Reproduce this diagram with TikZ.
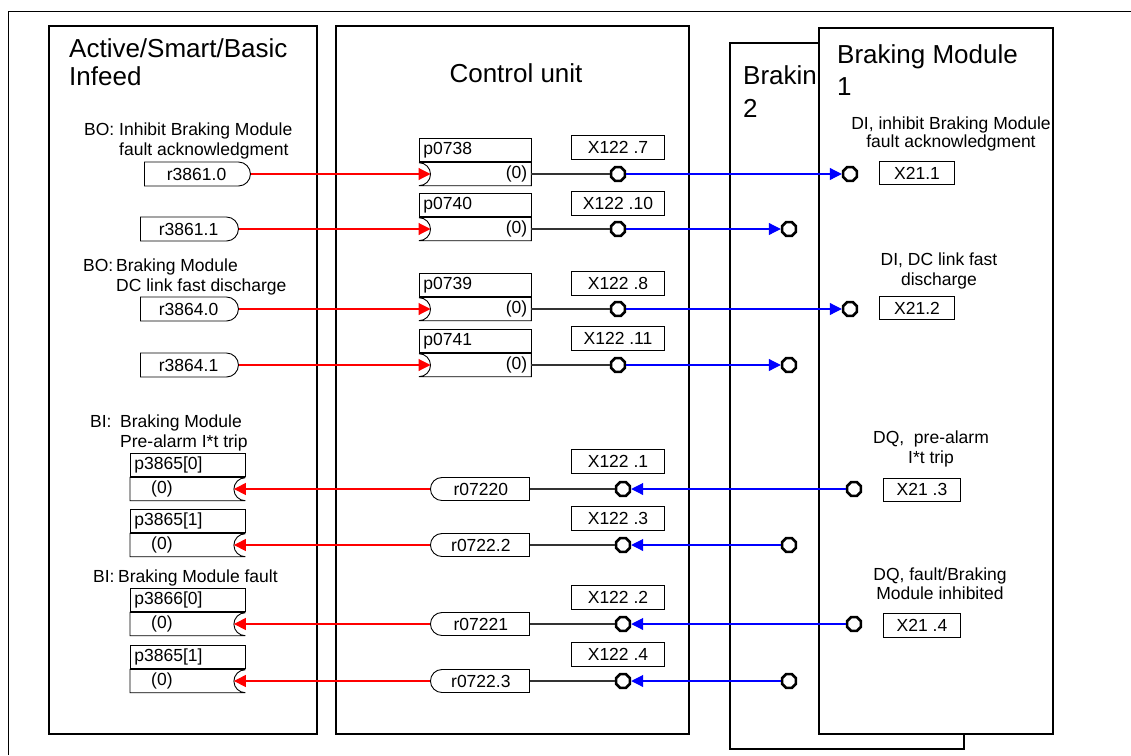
\documentclass[tikz,border=0pt]{standalone}
\usepackage{fontspec}
\setmainfont{Liberation Sans}
\usetikzlibrary{arrows.meta, positioning, shapes.geometric, shapes.misc}

\begin{document}
\begin{tikzpicture}[
  x=1pt, y=-1pt,
  unit/.style={rectangle, draw, line width=2.4pt, anchor=north west, inner sep=0pt},
  title/.style={font=\fontsize{26}{28}\selectfont, anchor=base west, inner sep=0pt},
  lbl/.style={font=\fontsize{17.5}{20}\selectfont, inner sep=0pt},
  xbox/.style={rectangle, draw, line width=0.9pt, font=\fontsize{17.5}{20}\selectfont,
               minimum width=93pt, minimum height=24pt, inner sep=0pt},
  term/.style={regular polygon, regular polygon sides=8, draw, line width=2.6pt,
               minimum size=15pt, inner sep=0pt},
  plugR/.style={rounded rectangle, rounded rectangle west arc=none, draw, line width=0.9pt,
                font=\fontsize{17.5}{20}\selectfont, minimum height=24pt, inner sep=0pt,
                anchor=west},
  plugL/.style={rounded rectangle, rounded rectangle east arc=none, draw, line width=0.9pt,
                font=\fontsize{17.5}{20}\selectfont, minimum height=23pt, inner sep=0pt,
                minimum width=99pt, anchor=west},
  phead/.style={rectangle, draw, line width=0.9pt, font=\fontsize{17.5}{20}\selectfont,
                minimum height=23pt, inner xsep=4pt, inner ysep=0pt, align=left,
                anchor=south west},
  sockW/.style={rectangle, font=\fontsize{17.5}{20}\selectfont, minimum height=23pt,
                text width=104pt, inner xsep=4pt, inner ysep=0pt, align=right, anchor=west},
  sockE/.style={rectangle, font=\fontsize{17.5}{20}\selectfont, minimum height=23pt,
                text width=107pt, inner xsep=4pt, inner ysep=0pt, align=left, anchor=west},
  notch/.style={black, line width=0.9pt},
  sig/.style={draw=red, fill=red, line width=1.1pt, -{Triangle[length=12pt, width=12pt]}},
  wire/.style={draw=blue, fill=blue, line width=1.1pt, -{Triangle[length=12pt, width=12pt]}},
  link/.style={black!80, line width=1.1pt}
]
\useasboundingbox (0,0) rectangle (1131,755);
% page frame (only top and left edge in view)
\draw[line width=0.8pt] (8,755) -- (8,11) -- (1131,11);

% the four units
\node[unit, minimum width=268pt, minimum height=708pt] (infeed) at (48,25) {};
\node[unit, minimum width=353pt, minimum height=708pt] (cu) at (335,25) {};
\node[unit, minimum width=234pt, minimum height=706pt] (bm2) at (729,42) {};
\node[title, font=\fontsize{26}{33}\selectfont] (bm2t) at (743,84)
     {\begin{tabular}[t]{@{}l@{}}Brakin\\2\end{tabular}};
\node[unit, fill=white, minimum width=234pt, minimum height=706pt] (bm1) at (818,27) {};
\node[title] (inft) at (69,57) {\begin{tabular}[t]{@{}l@{}}Active/Smart/Basic\\Infeed\end{tabular}};
\node[title, anchor=base] (cut) at (516,82) {Control unit};
\node[title, font=\fontsize{26}{32}\selectfont] (bm1t) at (837,63)
     {\begin{tabular}[t]{@{}l@{}}Braking Module\\1\end{tabular}};

% infeed: binector outputs and inputs
\node[lbl, anchor=base west] (lo1) at (84,135)
     {\makebox[35pt][l]{BO:}\begin{tabular}[t]{@{}l@{}}Inhibit Braking Module\\fault acknowledgment\end{tabular}};
\node[lbl, anchor=base west] (lo2) at (83,271)
     {\makebox[33pt][l]{BO:}\begin{tabular}[t]{@{}l@{}}Braking Module\\DC link fast discharge\end{tabular}};
\node[lbl, anchor=base west] (li1) at (90,427)
     {\makebox[30pt][l]{BI:}\begin{tabular}[t]{@{}l@{}}Braking Module\\Pre-alarm I*t trip\end{tabular}};
\node[lbl, anchor=base west] (li2) at (93,582) {\makebox[25pt][l]{BI:}Braking Module fault};

\node[plugR, minimum width=106pt] (ro1) at (144,174) {r3861.0};
\node[plugR, minimum width=98pt] (ro2) at (140,229) {r3861.1};
\node[plugR, minimum width=98pt] (ro3) at (140,309) {r3864.0};
\node[plugR, minimum width=98pt] (ro4) at (140,365) {r3864.1};

\node[sockE] (qi1) at (130,489) {\hspace*{17pt}(0)};
\node[phead, text width=107pt] (qh1) at (qi1.north west) {p3865[0]};
\node[sockE] (qi2) at (130,545) {\hspace*{17pt}(0)};
\node[phead, text width=107pt] (qh2) at (qi2.north west) {p3865[1]};
\node[sockE] (qi3) at (130,624) {\hspace*{17pt}(0)};
\node[phead, text width=107pt] (qh3) at (qi3.north west) {p3866[0]};
\node[sockE] (qi4) at (130,681) {\hspace*{17pt}(0)};
\node[phead, text width=107pt] (qh4) at (qi4.north west) {p3865[1]};
% socket outlines, notch on the right
\draw[notch] (qi1.north east) -- (qi1.north west) -- (qi1.south west) -- (qi1.south east)
             arc[start angle=-90, end angle=-270, radius=11.5pt];
\draw[notch] (qi2.north east) -- (qi2.north west) -- (qi2.south west) -- (qi2.south east)
             arc[start angle=-90, end angle=-270, radius=11.5pt];
\draw[notch] (qi3.north east) -- (qi3.north west) -- (qi3.south west) -- (qi3.south east)
             arc[start angle=-90, end angle=-270, radius=11.5pt];
\draw[notch] (qi4.north east) -- (qi4.north west) -- (qi4.south west) -- (qi4.south east)
             arc[start angle=-90, end angle=-270, radius=11.5pt];

% control unit: inputs, outputs and terminals X122
\node[sockW] (pi1) at (419,174) {(0)};
\node[phead, text width=104pt] (ph1) at (pi1.north west) {p0738};
\node[sockW] (pi2) at (419,229) {(0)};
\node[phead, text width=104pt] (ph2) at (pi2.north west) {p0740};
\node[sockW] (pi3) at (419,309) {(0)};
\node[phead, text width=104pt] (ph3) at (pi3.north west) {p0739};
\node[sockW] (pi4) at (419,365) {(0)};
\node[phead, text width=104pt] (ph4) at (pi4.north west) {p0741};
% socket outlines, notch on the left
\draw[notch] (pi1.north west) -- (pi1.north east) -- (pi1.south east) -- (pi1.south west)
             arc[start angle=-90, end angle=90, radius=11.5pt];
\draw[notch] (pi2.north west) -- (pi2.north east) -- (pi2.south east) -- (pi2.south west)
             arc[start angle=-90, end angle=90, radius=11.5pt];
\draw[notch] (pi3.north west) -- (pi3.north east) -- (pi3.south east) -- (pi3.south west)
             arc[start angle=-90, end angle=90, radius=11.5pt];
\draw[notch] (pi4.north west) -- (pi4.north east) -- (pi4.south east) -- (pi4.south west)
             arc[start angle=-90, end angle=90, radius=11.5pt];

\node[plugL] (rc1) at (430,489) {r07220};
\node[plugL] (rc2) at (430,545) {r0722.2};
\node[plugL] (rc3) at (430,624) {r07221};
\node[plugL] (rc4) at (430,681) {r0722.3};

\node[xbox] (xc1) at (618,147) {X122 .7};
\node[xbox] (xc2) at (618,203) {X122 .10};
\node[xbox] (xc3) at (618,283) {X122 .8};
\node[xbox] (xc4) at (618,338) {X122 .11};
\node[xbox] (xc5) at (618,461) {X122 .1};
\node[xbox] (xc6) at (618,518) {X122 .3};
\node[xbox] (xc7) at (618,597) {X122 .2};
\node[xbox] (xc8) at (618,654) {X122 .4};

\node[term] (tc1) at (618,174) {};
\node[term] (tc2) at (618,229) {};
\node[term] (tc3) at (618,309) {};
\node[term] (tc4) at (618,365) {};
\node[term] (tc5) at (623,489) {};
\node[term] (tc6) at (623,545) {};
\node[term] (tc7) at (623,624) {};
\node[term] (tc8) at (623,681) {};

% braking modules: terminals X21
\node[term] (tb1) at (850,174) {};
\node[term] (tb2) at (789,229) {};
\node[term] (tb3) at (850,309) {};
\node[term] (tb4) at (789,365) {};
\node[term] (tb5) at (854,489) {};
\node[term] (tb6) at (789,545) {};
\node[term] (tb7) at (854,624) {};
\node[term] (tb8) at (789,681) {};

\node[xbox, minimum width=75pt, minimum height=23pt] (xb1) at (917,173) {X21.1};
\node[xbox, minimum width=75pt, minimum height=23pt] (xb2) at (917,308) {X21.2};
\node[xbox, minimum width=77pt, minimum height=23pt] (xb3) at (922,489.5) {X21 .3};
\node[xbox, minimum width=77pt, minimum height=24pt] (xb4) at (922,625) {X21 .4};

\node[lbl, anchor=base, font=\fontsize{17.5}{18}\selectfont] (lb1) at (951,129)
     {\begin{tabular}[t]{@{}c@{}}DI, inhibit Braking Module\\fault acknowledgment\end{tabular}};
\node[lbl, anchor=base] (lb2) at (939,265)
     {\begin{tabular}[t]{@{}c@{}}DI, DC link fast\\discharge\end{tabular}};
\node[lbl, anchor=base] (lb3) at (931,443)
     {\begin{tabular}[t]{@{}c@{}}DQ,\ \ pre-alarm\\I*t trip\end{tabular}};
\node[lbl, anchor=base, font=\fontsize{17.5}{19}\selectfont] (lb4) at (940,580)
     {\begin{tabular}[t]{@{}c@{}}DQ, fault/Braking\\Module inhibited\end{tabular}};

% infeed -> control unit -> braking modules
\draw[sig] (ro1.east) -- ([xshift=11.5pt]pi1.west);
\draw[sig] (ro2.east) -- ([xshift=11.5pt]pi2.west);
\draw[sig] (ro3.east) -- ([xshift=11.5pt]pi3.west);
\draw[sig] (ro4.east) -- ([xshift=11.5pt]pi4.west);
\draw[link] (pi1.east) -- (tc1.west);
\draw[link] (pi2.east) -- (tc2.west);
\draw[link] (pi3.east) -- (tc3.west);
\draw[link] (pi4.east) -- (tc4.west);
\draw[wire] (tc1.east) -- (tb1.west);
\draw[wire] (tc2.east) -- (tb2.west);
\draw[wire] (tc3.east) -- (tb3.west);
\draw[wire] (tc4.east) -- (tb4.west);
% braking modules -> control unit -> infeed
\draw[wire] (tb5.west) -- (tc5.east);
\draw[wire] (tb6.west) -- (tc6.east);
\draw[wire] (tb7.west) -- (tc7.east);
\draw[wire] (tb8.west) -- (tc8.east);
\draw[link] (rc1.east) -- (tc5.west);
\draw[link] (rc2.east) -- (tc6.west);
\draw[link] (rc3.east) -- (tc7.west);
\draw[link] (rc4.east) -- (tc8.west);
\draw[sig] (rc1.west) -- ([xshift=-11.5pt]qi1.east);
\draw[sig] (rc2.west) -- ([xshift=-11.5pt]qi2.east);
\draw[sig] (rc3.west) -- ([xshift=-11.5pt]qi3.east);
\draw[sig] (rc4.west) -- ([xshift=-11.5pt]qi4.east);
\end{tikzpicture}
\end{document}
